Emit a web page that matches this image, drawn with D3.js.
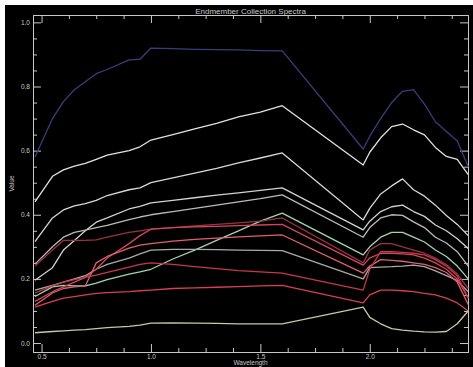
<!DOCTYPE html>
<html>
<head>
<meta charset="utf-8">
<script src="https://cdn.jsdelivr.net/npm/d3@7"></script>
<style>
  body { margin: 0; background: #fff; }
  text { font-family: "Liberation Sans", sans-serif; fill: #c8c8c8; }
</style>
</head>
<body>
<div id="chart"></div>
<script>
// wavelength grid (micrometres) shared by every spectrum
const wavelengths = [0.47, 0.55, 0.6, 0.65, 0.7, 0.75, 0.8, 0.9, 0.95, 1.0, 1.1, 1.2, 1.3, 1.4, 1.5, 1.6,
  1.97, 2.0, 2.05, 2.1, 2.15, 2.2, 2.25, 2.3, 2.35, 2.4, 2.45];

const navy   = [0.58,0.70,0.753,0.79,0.815,0.84,0.853,0.883,0.885,0.92,0.918,0.916,0.915,0.914,0.912,0.911,0.605,0.645,0.70,0.75,0.785,0.79,0.745,0.69,0.66,0.63,0.55];
const white1 = [0.44,0.52,0.54,0.552,0.56,0.573,0.586,0.60,0.612,0.633,0.65,0.668,0.685,0.705,0.72,0.74,0.555,0.595,0.64,0.675,0.683,0.665,0.649,0.61,0.582,0.573,0.525];
const white2 = [0.316,0.39,0.415,0.428,0.435,0.445,0.46,0.478,0.484,0.50,0.515,0.53,0.545,0.562,0.577,0.593,0.384,0.42,0.465,0.49,0.512,0.478,0.458,0.43,0.398,0.37,0.335];
const white3 = [0.196,0.235,0.29,0.32,0.35,0.377,0.39,0.418,0.426,0.437,0.445,0.453,0.461,0.468,0.476,0.484,0.353,0.38,0.41,0.425,0.43,0.41,0.395,0.368,0.35,0.325,0.295];
const grey1  = [0.246,0.30,0.33,0.345,0.352,0.36,0.367,0.385,0.393,0.40,0.41,0.42,0.43,0.44,0.45,0.462,0.33,0.36,0.39,0.40,0.398,0.378,0.36,0.33,0.312,0.285,0.24];
const green  = [0.145,0.175,0.18,0.178,0.178,0.187,0.198,0.215,0.222,0.23,0.262,0.29,0.32,0.35,0.38,0.405,0.275,0.30,0.33,0.345,0.345,0.33,0.315,0.29,0.27,0.24,0.20];
const grey2  = [0.165,0.18,0.19,0.20,0.21,0.23,0.245,0.265,0.278,0.29,0.292,0.292,0.291,0.29,0.289,0.288,0.20,0.235,0.237,0.238,0.24,0.243,0.238,0.225,0.21,0.195,0.16];
const maroon = [0.24,0.29,0.32,0.32,0.32,0.322,0.33,0.345,0.35,0.355,0.36,0.365,0.37,0.375,0.38,0.39,0.25,0.29,0.31,0.31,0.30,0.29,0.28,0.265,0.245,0.215,0.17];
const red1   = [0.13,0.16,0.175,0.19,0.205,0.23,0.265,0.31,0.335,0.355,0.36,0.362,0.364,0.366,0.368,0.37,0.243,0.265,0.28,0.28,0.278,0.275,0.265,0.25,0.23,0.20,0.14];
const red2   = [0.118,0.156,0.17,0.175,0.178,0.25,0.27,0.296,0.305,0.31,0.318,0.323,0.327,0.331,0.334,0.337,0.218,0.24,0.26,0.258,0.255,0.25,0.245,0.235,0.22,0.19,0.12];
const red3   = [0.156,0.178,0.19,0.198,0.205,0.212,0.22,0.237,0.245,0.25,0.245,0.238,0.232,0.226,0.222,0.218,0.165,0.23,0.285,0.285,0.283,0.28,0.275,0.26,0.24,0.21,0.14];
const red4   = [0.112,0.13,0.14,0.145,0.15,0.155,0.157,0.16,0.163,0.165,0.17,0.172,0.174,0.176,0.178,0.18,0.125,0.15,0.165,0.165,0.163,0.16,0.155,0.15,0.14,0.125,0.10];
const yellow = [0.032,0.036,0.038,0.04,0.042,0.045,0.048,0.052,0.056,0.062,0.063,0.062,0.061,0.06,0.06,0.06,0.112,0.08,0.06,0.045,0.04,0.037,0.035,0.034,0.036,0.06,0.10];

const spectra = [navy, white1, white2, white3, grey1, green, grey2, maroon, red1, red2, red3, red4, yellow];
const colors = ["#383d7c","#e2e2e2","#d8d8d8","#d0d4d0","#b8bcb8","#a4d4ac","#a8aaa8",
  "#9c3048","#d04858","#e06070","#c83848","#d84050","#c8c8a0"];

const xMajor = [0.5, 1.0, 1.5, 2.0];
const yMajor = [0.0, 0.2, 0.4, 0.6, 0.8, 1.0];
const title = "Endmember Collection Spectra";

const width = 473, height = 367;
const x = d3.scaleLinear().domain([0.461, 2.449]).range([33, 468]);
const y = d3.scaleLinear().domain([-0.028, 1.023]).range([352, 15]);

const svg = d3.select("#chart").append("svg").attr("width", width).attr("height", height);
svg.append("rect").attr("x", 5).attr("y", 5).attr("width", width - 5).attr("height", height - 5).attr("fill", "#000");

const xMinor = d3.range(0.5, 2.45, 0.125).filter(v => !xMajor.some(m => Math.abs(m - v) < 1e-6));
const yMinor = d3.range(0, 1.001, 0.05).filter(v => !yMajor.some(m => Math.abs(m - v) < 1e-6));

function styleAxis(g) {
  g.selectAll("path, line").attr("stroke", "#c8c8c8").attr("stroke-width", 1);
  g.selectAll("text").attr("fill", "#c8c8c8").style("font-size", "6.5px").attr("font-family", "Liberation Sans, sans-serif");
}

// bottom
svg.append("g").attr("transform", "translate(0," + y.range()[0] + ")")
  .call(d3.axisBottom(x).tickValues(xMajor).tickSizeInner(-8).tickSizeOuter(0).tickPadding(2).tickFormat(d3.format(".1f")))
  .call(styleAxis);
svg.append("g").attr("transform", "translate(0," + y.range()[0] + ")")
  .call(d3.axisBottom(x).tickValues(xMinor).tickSizeInner(-4).tickSizeOuter(0).tickFormat(""))
  .call(styleAxis);
// top
svg.append("g").attr("transform", "translate(0," + y.range()[1] + ")")
  .call(d3.axisTop(x).tickValues(xMajor).tickSizeInner(-8).tickSizeOuter(0).tickFormat(""))
  .call(styleAxis);
svg.append("g").attr("transform", "translate(0," + y.range()[1] + ")")
  .call(d3.axisTop(x).tickValues(xMinor).tickSizeInner(-4).tickSizeOuter(0).tickFormat(""))
  .call(styleAxis);
// left
svg.append("g").attr("transform", "translate(" + x.range()[0] + ",0)")
  .call(d3.axisLeft(y).tickValues(yMajor).tickSizeInner(-8).tickSizeOuter(0).tickPadding(3).tickFormat(d3.format(".1f")))
  .call(styleAxis);
svg.append("g").attr("transform", "translate(" + x.range()[0] + ",0)")
  .call(d3.axisLeft(y).tickValues(yMinor).tickSizeInner(-4).tickSizeOuter(0).tickFormat(""))
  .call(styleAxis);
// right
svg.append("g").attr("transform", "translate(" + x.range()[1] + ",0)")
  .call(d3.axisRight(y).tickValues(yMajor).tickSizeInner(-8).tickSizeOuter(0).tickFormat(""))
  .call(styleAxis);
svg.append("g").attr("transform", "translate(" + x.range()[1] + ",0)")
  .call(d3.axisRight(y).tickValues(yMinor).tickSizeInner(-4).tickSizeOuter(0).tickFormat(""))
  .call(styleAxis);

const line = d3.line().x((d, i) => x(wavelengths[i])).y(d => y(d));

svg.append("g").selectAll("path")
  .data(spectra)
  .enter()
  .append("path")
  .attr("fill", "none")
  .attr("stroke", (d, i) => colors[i])
  .attr("stroke-width", 1.3)
  .attr("stroke-linejoin", "round")
  .attr("d", line);

svg.append("text").attr("x", (x.range()[0] + x.range()[1]) / 2).attr("y", 14)
  .attr("text-anchor", "middle").style("font-size", "8px").text(title);
svg.append("text").attr("x", (x.range()[0] + x.range()[1]) / 2).attr("y", 365)
  .attr("text-anchor", "middle").style("font-size", "6.5px").text("Wavelength");
svg.append("text").attr("transform", "translate(14," + (y.range()[0] + y.range()[1]) / 2 + ") rotate(-90)")
  .attr("text-anchor", "middle").style("font-size", "6.5px").text("Value");
</script>
</body>
</html>
